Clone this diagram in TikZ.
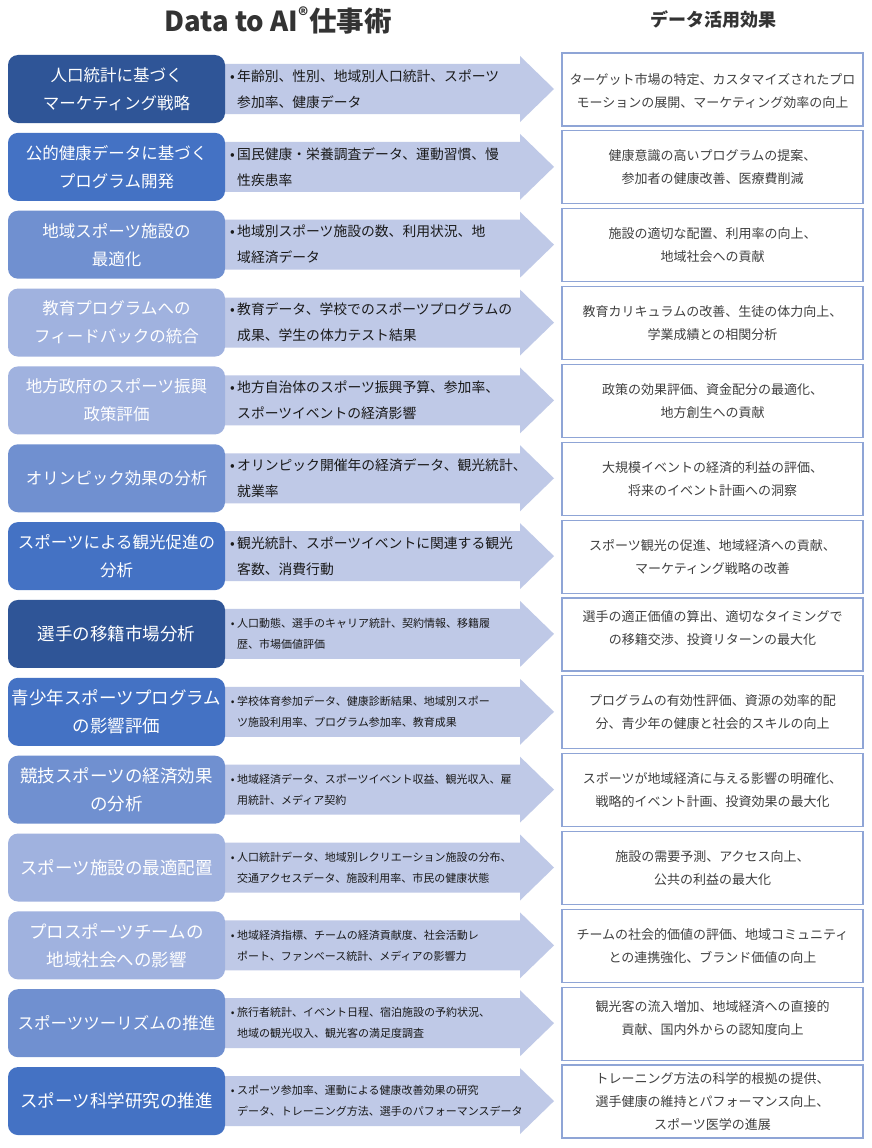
\documentclass[tikz,border=0pt]{standalone}
\usepackage{fontspec}
\setmainfont{Noto Sans CJK JP}
\definecolor{cA}{HTML}{2F5597}
\definecolor{cB}{HTML}{4472C4}
\definecolor{cC}{HTML}{7090D0}
\definecolor{cD}{HTML}{A0B2DF}
\definecolor{arrowcol}{HTML}{BFC9E7}
\definecolor{rbord}{HTML}{8FA5D6}
\definecolor{rtext}{HTML}{404040}
\definecolor{titlecol}{HTML}{333333}
\tikzset{
  leftbox/.style={rounded corners=10pt, minimum width=217pt, minimum height=68pt, inner sep=0pt,
    text=white, align=center},
  arrowtext/.style={anchor=west, align=left, inner sep=0pt, text=black!90},
  rightbox/.style={draw=rbord, line width=1.2pt, fill=white, minimum width=301pt, minimum height=73pt,
    inner sep=0pt, align=center, text=rtext},
  fa/.style={font=\fontsize{13.8}{26}\selectfont},
  fb/.style={font=\fontsize{11}{21}\selectfont},
}
\newcommand\lfa{\fontsize{16.5}{28}\selectfont}
\newcommand\lfb{\fontsize{17.5}{28}\selectfont}
% #1 index, #2 colour, #3 left font, #4 left text, #5 arrow style, #6 arrow text, #7 right yshift, #8 right text
\newcommand\rowitem[8]{%
  \pgfmathsetmacro\cy{89+77.85*#1}
  \fill[arrowcol] (222,{\cy-25}) -- (520,{\cy-25}) -- (520,{\cy-33}) -- (554,\cy) -- (520,{\cy+33})
     -- (520,{\cy+25}) -- (222,{\cy+25}) -- cycle;
  \node[leftbox, fill=#2, font=#3] (L#1) at (116.5,\cy) {#4};
  \node[arrowtext, #5] (A#1) at (237,\cy) {\llap{•\hspace{2.5pt}}#6};
  \node[rightbox] (R#1) at (712.5,{\cy+0.5}) {};
  \node[align=center, text=rtext, font=\fontsize{13}{23}\selectfont, inner sep=0pt] (RT#1) at (712.5,{\cy+0.5+#7}) {#8};
}
\begin{document}
\begin{tikzpicture}[x=1pt,y=-1pt]
\fill[white] (0,0) rectangle (872,1148);
\useasboundingbox (0,0) rectangle (872,1148);
\node[font=\fontsize{27.5}{32}\bfseries\selectfont, text=titlecol] (title) at (278,20) {Data to AI\textsuperscript{®}仕事術};
\node[font=\fontsize{18}{22}\bfseries\selectfont, text=titlecol] (title2) at (713,20) {データ活用効果};

\rowitem{0}{cA}{\lfa}{人口統計に基づく\\マーケティング戦略}{fa}{年齢別、性別、地域別人口統計、スポーツ\\参加率、健康データ}{2}{ターゲット市場の特定、カスタマイズされたプロ\\モーションの展開、マーケティング効率の向上}
\rowitem{1}{cB}{\lfa}{公的健康データに基づく\\プログラム開発}{fa}{国民健康・栄養調査データ、運動習慣、慢\\性疾患率}{0}{健康意識の高いプログラムの提案、\\参加者の健康改善、医療費削減}
\rowitem{2}{cC}{\lfa}{地域スポーツ施設の\\最適化}{fa}{地域別スポーツ施設の数、利用状況、地\\域経済データ}{0}{施設の適切な配置、利用率の向上、\\地域社会への貢献}
\rowitem{3}{cD}{\lfa}{教育プログラムへの\\フィードバックの統合}{fa}{教育データ、学校でのスポーツプログラムの\\成果、学生の体力テスト結果}{0}{教育カリキュラムの改善、生徒の体力向上、\\学業成績との相関分析}
\rowitem{4}{cD}{\lfa}{地方政府のスポーツ振興\\政策評価}{fa}{地方自治体のスポーツ振興予算、参加率、\\スポーツイベントの経済影響}{0}{政策の効果評価、資金配分の最適化、\\地方創生への貢献}
\rowitem{5}{cC}{\lfa}{オリンピック効果の分析}{fa}{オリンピック開催年の経済データ、観光統計、\\就業率}{0}{大規模イベントの経済的利益の評価、\\将来のイベント計画への洞察}
\rowitem{6}{cB}{\lfa}{スポーツによる観光促進の\\分析}{fa}{観光統計、スポーツイベントに関連する観光\\客数、消費行動}{0}{スポーツ観光の促進、地域経済への貢献、\\マーケティング戦略の改善}
\rowitem{7}{cA}{\lfb}{選手の移籍市場分析}{fb}{人口動態、選手のキャリア統計、契約情報、移籍履\\歴、市場価値評価}{-6}{選手の適正価値の算出、適切なタイミングで\\の移籍交渉、投資リターンの最大化}
\rowitem{8}{cB}{\lfb}{青少年スポーツプログラム\\の影響評価}{fb}{学校体育参加データ、健康診断結果、地域別スポー\\ツ施設利用率、プログラム参加率、教育成果}{0}{プログラムの有効性評価、資源の効率的配\\分、青少年の健康と社会的スキルの向上}
\rowitem{9}{cC}{\lfb}{競技スポーツの経済効果\\の分析}{fb}{地域経済データ、スポーツイベント収益、観光収入、雇\\用統計、メディア契約}{0}{スポーツが地域経済に与える影響の明確化、\\戦略的イベント計画、投資効果の最大化}
\rowitem{10}{cD}{\lfb}{スポーツ施設の最適配置}{fb}{人口統計データ、地域別レクリエーション施設の分布、\\交通アクセスデータ、施設利用率、市民の健康状態}{0}{施設の需要予測、アクセス向上、\\公共の利益の最大化}
\rowitem{11}{cD}{\lfb}{プロスポーツチームの\\地域社会への影響}{fb}{地域経済指標、チームの経済貢献度、社会活動レ\\ポート、ファンベース統計、メディアの影響力}{0}{チームの社会的価値の評価、地域コミュニティ\\との連携強化、ブランド価値の向上}
\rowitem{12}{cC}{\lfa}{スポーツツーリズムの推進}{fb}{旅行者統計、イベント日程、宿泊施設の予約状況、\\地域の観光収入、観光客の満足度調査}{-6}{観光客の流入増加、地域経済への直接的\\貢献、国内外からの認知度向上}
\rowitem{13}{cB}{\lfb}{スポーツ科学研究の推進}{fb}{スポーツ参加率、運動による健康改善効果の研究\\データ、トレーニング方法、選手のパフォーマンスデータ}{0}{トレーニング方法の科学的根拠の提供、\\選手健康の維持とパフォーマンス向上、\\スポーツ医学の進展}
\end{tikzpicture}
\end{document}
